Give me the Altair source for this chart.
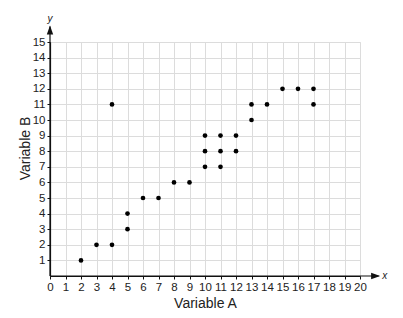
import altair as alt
import pandas as pd

# Data
var_a = [2, 3, 4, 4, 5, 5, 6, 7, 8, 9, 10, 10, 10, 11, 11, 11, 12, 12, 13, 13, 14, 15, 16, 17, 17]
var_b = [1, 2, 2, 11, 3, 4, 5, 5, 6, 6, 7, 8, 9, 7, 8, 9, 8, 9, 10, 11, 11, 12, 12, 12, 11]
x_ticks = list(range(0, 21))
y_ticks = list(range(1, 16))

df = pd.DataFrame({"A": var_a, "B": var_b})

FONT = "Liberation Sans"
xs = alt.Scale(domain=[0, 20], nice=False, zero=True)
ys = alt.Scale(domain=[0, 15], nice=False, zero=True)

x_axis = alt.Axis(values=x_ticks, tickCount=len(x_ticks) + 5, grid=True,
                  gridColor="#dcdcdc", gridWidth=1,
                  domainColor="#111", domainWidth=1.2, tickColor="#111", tickSize=3,
                  labelFont=FONT, labelFontSize=11.5, labelColor="#222", labelPadding=2,
                  labelAngle=0, labelFlush=False, labelOverlap=False,
                  title="Variable A", titleFont=FONT,
                  titleFontSize=14, titleFontWeight="normal", titleColor="#222",
                  titleY=31, titleBaseline="alphabetic")
y_axis = alt.Axis(values=y_ticks, tickCount=len(y_ticks) + 5, grid=True,
                  gridColor="#dcdcdc", gridWidth=1,
                  domainColor="#111", domainWidth=1.2, tickColor="#111", tickSize=3,
                  labelFont=FONT, labelFontSize=11.5, labelColor="#222", labelPadding=2,
                  labelFlush=False, labelOverlap=False,
                  title="Variable B", titleFont=FONT,
                  titleFontSize=14, titleFontWeight="normal", titleColor="#222",
                  titleAngle=-90, titleX=-25, titleY=106, titleAlign="center",
                  titleBaseline="middle")

points = alt.Chart(df).mark_circle(size=22, color="black", opacity=1).encode(
    x=alt.X("A:Q", scale=xs, axis=x_axis),
    y=alt.Y("B:Q", scale=ys, axis=y_axis),
)

# axis extensions with arrows
yline = alt.Chart(pd.DataFrame({"x": [0], "y": [0], "y2": [16]})).mark_rule(
    color="#111", strokeWidth=1.2, clip=False).encode(x="x:Q", y="y:Q", y2="y2:Q")
xline = alt.Chart(pd.DataFrame({"x": [0], "x2": [21.2], "y": [0]})).mark_rule(
    color="#111", strokeWidth=1.2, clip=False).encode(x="x:Q", x2="x2:Q", y="y:Q")
yarrow = alt.Chart(pd.DataFrame({"x": [0], "y": [16.05]})).mark_point(
    shape="M0,0L1.6,4.5L-1.6,4.5Z", size=16, filled=True, color="#111", opacity=1,
    clip=False).encode(x="x:Q", y="y:Q")
xarrow = alt.Chart(pd.DataFrame({"x": [21.3], "y": [0]})).mark_point(
    shape="M0,0L-4.5,1.6L-4.5,-1.6Z", size=16, filled=True, color="#111", opacity=1,
    clip=False).encode(x="x:Q", y="y:Q")
ylab = alt.Chart(pd.DataFrame({"x": [0], "y": [16.5], "t": ["y"]})).mark_text(
    font=FONT, fontSize=10, fontStyle="italic", color="#222", align="center",
    baseline="middle", clip=False).encode(x="x:Q", y="y:Q", text="t:N")
xlab = alt.Chart(pd.DataFrame({"x": [21.3], "y": [0], "t": ["x"]})).mark_text(
    font=FONT, fontSize=10, fontStyle="italic", color="#222", align="left",
    baseline="middle", dx=2, clip=False).encode(x="x:Q", y="y:Q", text="t:N")

chart = alt.layer(points, yline, xline, yarrow, xarrow, ylab, xlab).properties(
    width=310, height=234,
    autosize=alt.AutoSizeParams(type="none"),
    padding={"left": 50, "top": 42, "right": 43, "bottom": 42},
).configure_view(stroke=None).configure(background="white")

chart.save("out.html", embed_options={"renderer": "svg", "actions": False})
